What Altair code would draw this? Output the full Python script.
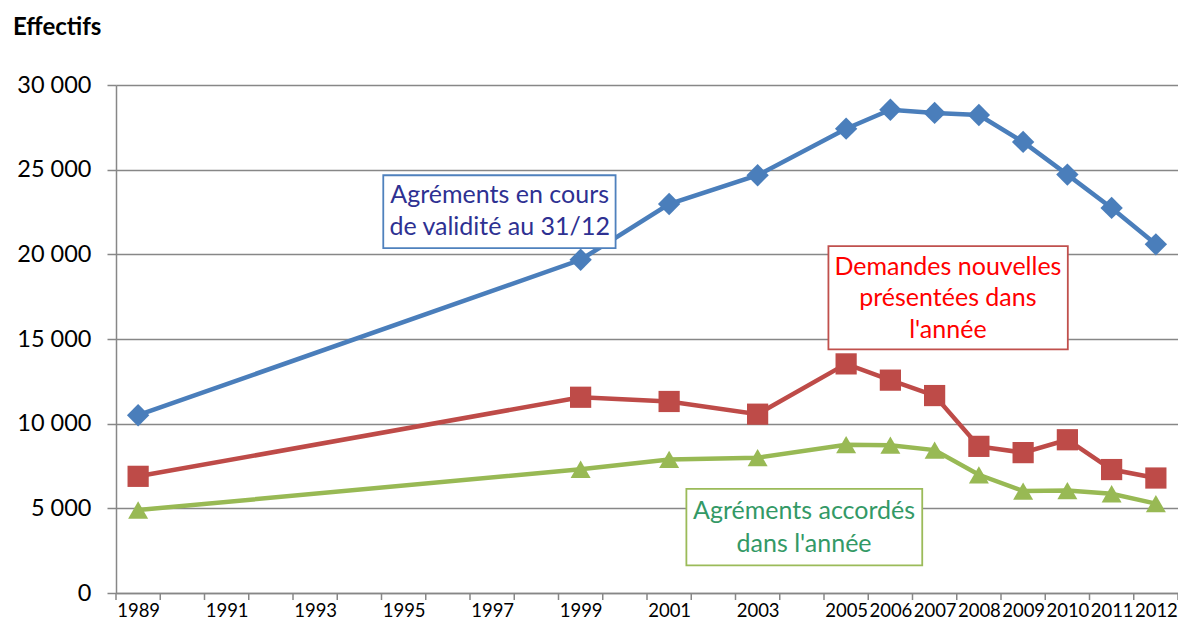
import altair as alt
import pandas as pd

# ---- data ----
years = [1989, 1999, 2001, 2003, 2005, 2006, 2007, 2008, 2009, 2010, 2011, 2012]
agrements_valides = [10500, 19680, 22970, 24670, 27420, 28540, 28350, 28230, 26640, 24710, 22740, 20590]
demandes_nouvelles = [6890, 11560, 11310, 10560, 13530, 12570, 11660, 8660, 8290, 9050, 7290, 6790]
agrements_accordes = [4900, 7310, 7890, 7990, 8760, 8730, 8440, 6980, 6020, 6050, 5860, 5280]

series_names = [
    "Agréments en cours de validité au 31/12",
    "Demandes nouvelles présentées dans l'année",
    "Agréments accordés dans l'année",
]
series_colors = ["#4A7EBB", "#BE4B48", "#98B954"]
series_shapes = ["diamond", "square", "triangle-up"]
series_sizes = [500, 400, 500]

x_label_years = [1989, 1991, 1993, 1995, 1997, 1999, 2001, 2003,
                 2005, 2006, 2007, 2008, 2009, 2010, 2011, 2012]
x_tick_bounds = [1988.5, 1989.5, 1990.5, 1991.5, 1992.5, 1993.5, 1994.5, 1995.5,
                 1996.5, 1997.5, 1998.5, 1999.5, 2000.5, 2001.5, 2002.5, 2003.5,
                 2004.5, 2005.5, 2006.5, 2007.5, 2008.5, 2009.5, 2010.5, 2011.5, 2012.5]
y_ticks = [0, 5000, 10000, 15000, 20000, 25000, 30000]

rows = []
for name, vals in zip(series_names, [agrements_valides, demandes_nouvelles, agrements_accordes]):
    for yr, v in zip(years, vals):
        rows.append({"year": yr, "value": v, "series": name})
df = pd.DataFrame(rows)

W, H = 1062, 508
GRAY = "#878787"
FONT = "Lato"

x_scale = alt.Scale(domain=[1988.5, 2012.5], nice=False, zero=False)
y_scale = alt.Scale(domain=[0, 30000], nice=False)

x_enc = alt.X(
    "year:Q",
    scale=x_scale,
    axis=alt.Axis(
        values=x_label_years, format="d", title=None, grid=False,
        ticks=False, tickSize=0, labelPadding=8, labelFlush=False,
        labelOverlap=False, labelFont=FONT, labelFontSize=18.5,
        labelColor="#000000", domainColor=GRAY, domainWidth=1.5,
    ),
)
y_enc = alt.Y(
    "value:Q",
    scale=y_scale,
    axis=alt.Axis(
        values=y_ticks, title=None, grid=True, gridColor=GRAY, gridWidth=1.5,
        tickColor=GRAY, tickWidth=1.5, tickSize=9, labelPadding=16,
        labelFont=FONT, labelFontSize=23.5, labelColor="#000000",
        domainColor=GRAY, domainWidth=1.5,
        labelExpr="replace(format(datum.value, ','), ',', ' ')",
    ),
)
color_enc = alt.Color("series:N", scale=alt.Scale(domain=series_names, range=series_colors), legend=None)

base = alt.Chart(df)
lines = base.mark_line(strokeWidth=4.5).encode(x=x_enc, y=y_enc, color=color_enc, detail="series:N")
points = base.mark_point(filled=True, opacity=1).encode(
    x=x_enc, y=y_enc, color=color_enc,
    shape=alt.Shape("series:N", scale=alt.Scale(domain=series_names, range=series_shapes), legend=None),
    size=alt.Size("series:N", scale=alt.Scale(domain=series_names, range=series_sizes), legend=None),
)

ticks = alt.Chart(pd.DataFrame({"year": x_tick_bounds})).mark_rule(color=GRAY, strokeWidth=1.5).encode(
    x=x_enc, y=alt.value(H), y2=alt.value(H + 7)
)

one = alt.Data(values=[{"k": 1}])


def label_box(x0, x1, y0, y1, stroke, xc, lines_txt, ys, color):
    layers = [
        alt.Chart(one).mark_rect(fill="white", stroke=stroke, strokeWidth=1.8).encode(
            x=alt.datum(x0, scale=x_scale), x2=alt.datum(x1),
            y=alt.datum(y0, scale=y_scale), y2=alt.datum(y1),
        )
    ]
    for t, yy in zip(lines_txt, ys):
        layers.append(
            alt.Chart(one).mark_text(
                text=t, font=FONT, fontSize=25, color=color, align="center", baseline="middle"
            ).encode(x=alt.datum(xc, scale=x_scale), y=alt.datum(yy, scale=y_scale))
        )
    return layers


ann = []
ann += label_box(1994.54, 1999.79, 24670, 20370, "#4F81BD", 1997.17,
                 ["Agréments en cours", "de validité au 31/12"], [23510, 21590], "#2E3192")
ann += label_box(2004.60, 2010.01, 20490, 14390, "#C0504D", 2007.30,
                 ["Demandes nouvelles", "présentées dans", "l'année"], [19270, 17410, 15550], "#FF0000")
ann += label_box(2001.39, 2006.72, 6150, 1630, "#9BBB59", 2004.05,
                 ["Agréments accordés", "dans l'année"], [4830, 2870], "#339966")

effectifs = alt.Chart(one).mark_text(
    text="Effectifs", font=FONT, fontSize=24, fontWeight="bold", color="#000000",
    align="left", baseline="middle"
).encode(x=alt.value(-103), y=alt.value(-57))

chart = alt.layer(lines, points, ticks, *ann, effectifs).properties(
    width=W, height=H,
    padding={"left": 108, "top": 77, "right": 0, "bottom": 28},
    autosize=alt.AutoSizeParams(type="none"),
).configure_view(stroke=None)

chart.save("out.html", embed_options={"renderer": "svg", "actions": False})
